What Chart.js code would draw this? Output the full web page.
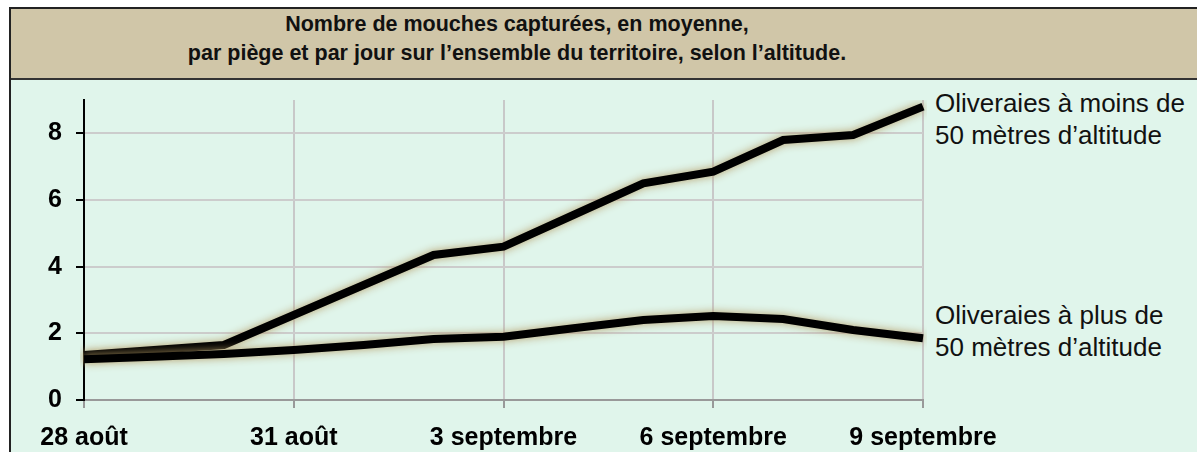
<!DOCTYPE html>
<html lang="fr">
<head>
<meta charset="utf-8">
<script src="https://cdn.jsdelivr.net/npm/chart.js@4"></script>
<style>
  html, body { margin: 0; padding: 0; background: #fff; }
  body { width: 1197px; height: 452px; position: relative; overflow: hidden; font-family: "Liberation Sans", Arial, sans-serif; }
  .frame { position: absolute; left: 9px; top: 7px; width: 1200px; height: 470px; border: 2px solid #222; background: #e0f5eb; }
  .title-box { position: absolute; left: 0; top: 0; right: 0; height: 69px; background: #d0c6a8; border-bottom: 2px solid #333; }
  .title-line { position: absolute; left: 517px; font-weight: bold; font-size: 21.5px; color: #111; white-space: nowrap; transform: translate(-50%, -50%); }
  .serie-label { position: absolute; left: 935px; font-size: 25px; line-height: 32px; color: #111; white-space: nowrap; transform: scaleX(1.04); transform-origin: left top; }
  #chart { position: absolute; left: 0; top: 0; }
</style>
</head>
<body>
<div class="frame">
  <div class="title-box"></div>
</div>
<div class="title-line" style="top:24px;">Nombre de mouches capturées, en moyenne,</div>
<div class="title-line" style="top:53px;">par piège et par jour sur l’ensemble du territoire, selon l’altitude.</div>
<div class="serie-label" style="top:87px;">Oliveraies à moins de<br>50 mètres d’altitude</div>
<div class="serie-label" style="top:299px;">Oliveraies à plus de<br>50 mètres d’altitude</div>
<canvas id="chart" width="1197" height="452"></canvas>
<script>
// === Data ===
const days = ["28 août", "29 août", "30 août", "31 août", "1 septembre", "2 septembre", "3 septembre",
  "4 septembre", "5 septembre", "6 septembre", "7 septembre", "8 septembre", "9 septembre"];
const moins50m = [1.35, 1.5, 1.65, 2.55, 3.45, 4.35, 4.6, 5.55, 6.5, 6.85, 7.8, 7.95, 8.8];
const plus50m = [1.22, 1.3, 1.38, 1.5, 1.65, 1.83, 1.9, 2.15, 2.4, 2.52, 2.43, 2.1, 1.85];
const yTicks = [0, 2, 4, 6, 8];

// soft tan glow around the thick lines
const glowPlugin = {
  id: "glow",
  beforeDatasetDraw(chart) {
    const c = chart.ctx;
    c.save();
    c.shadowColor = "rgba(180, 155, 100, 0.95)";
    c.shadowBlur = 8;
  },
  afterDatasetDraw(chart) {
    chart.ctx.restore();
  },
};

const lineStyle = {
  borderColor: "#000",
  borderWidth: 8,
  pointRadius: 0,
  tension: 0,
  fill: false,
  borderJoinStyle: "miter",
};

new Chart(document.getElementById("chart"), {
  type: "line",
  data: {
    labels: days,
    datasets: [
      { label: "Oliveraies à plus de 50 mètres d’altitude", data: plus50m, ...lineStyle },
      { label: "Oliveraies à moins de 50 mètres d’altitude", data: moins50m, ...lineStyle },
    ],
  },
  options: {
    responsive: false,
    animation: false,
    events: [],
    layout: { padding: { top: 100, right: 274, left: 0, bottom: 0 } },
    plugins: { legend: { display: false }, tooltip: { enabled: false } },
    scales: {
      x: {
        offset: false,
        afterFit: (s) => { s.height = 52; },
        grid: {
          color: (ctx) => (ctx.index % 3 === 0 ? "#c8c8c8" : "rgba(0,0,0,0)"),
          tickColor: (ctx) => (ctx.index % 3 === 0 ? "#999" : "rgba(0,0,0,0)"),
          lineWidth: 2,
          tickLength: 8,
        },
        border: { color: "#999", width: 2 },
        ticks: {
          autoSkip: false,
          maxRotation: 0,
          padding: 15,
          color: "#000",
          font: { family: "Liberation Sans", size: 25, weight: "bold" },
          callback: (v, i) => (i % 3 === 0 ? days[i] : ""),
        },
      },
      y: {
        min: 0,
        max: 9,
        afterFit: (s) => { s.width = 84; },
        afterBuildTicks: (s) => { s.ticks = yTicks.map((v) => ({ value: v })); },
        grid: { color: "#cccccc", lineWidth: 2, tickColor: "#000", tickLength: 8 },
        border: { color: "#000", width: 2 },
        ticks: {
          padding: 14,
          color: "#000",
          font: { family: "Liberation Sans", size: 25, weight: "bold" },
        },
      },
    },
  },
  plugins: [glowPlugin],
});
</script>
</body>
</html>
